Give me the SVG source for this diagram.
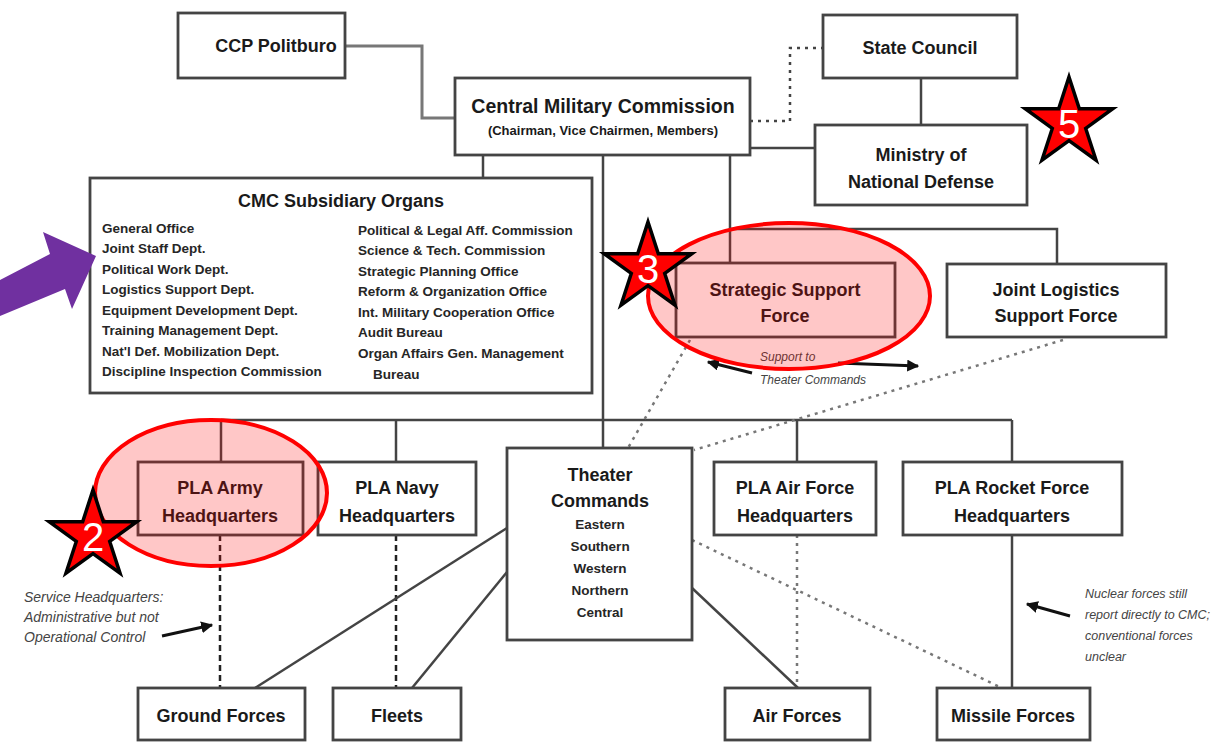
<svg xmlns="http://www.w3.org/2000/svg" width="1227" height="742" viewBox="0 0 1227 742">
<defs>
<style>
.box{fill:#fff;stroke:#444;stroke-width:2.8}
.t{font-family:"Liberation Sans",Arial,sans-serif;font-weight:bold;fill:#1a1a1a;text-anchor:middle}
.b19{font-size:19px}
.b18{font-size:18px}
.s{font-family:"Liberation Sans",Arial,sans-serif;font-weight:bold;font-size:13.5px;fill:#262626}
.sm{font-family:"Liberation Sans",Arial,sans-serif;font-weight:bold;font-size:13.5px;fill:#262626;text-anchor:middle}
.it{font-family:"Liberation Sans",Arial,sans-serif;font-style:italic;fill:#444}
.solid{fill:none;stroke:#444;stroke-width:2.5}
.dash{fill:none;stroke:#222;stroke-width:2.5;stroke-dasharray:6,4}
.dot{fill:none;stroke:#777;stroke-width:2.5;stroke-dasharray:3,5}
.hl{fill:#ff0000;fill-opacity:0.22;stroke:#ff0000;stroke-width:4}
.star{fill:#ff0000;stroke:#000;stroke-width:3.5;stroke-linejoin:miter}
.num{font-family:"Liberation Sans",Arial,sans-serif;font-size:40px;fill:#fff;text-anchor:middle}
</style>
<polygon id="starShape" points="0,-46 10.33,-14.21 43.75,-14.21 16.71,5.43 27.04,37.21 0,17.57 -27.04,37.21 -16.71,5.43 -43.75,-14.21 -10.33,-14.21"/>
<marker id="ah" viewBox="0 0 10 10" refX="9" refY="5" markerWidth="4" markerHeight="4" orient="auto-start-reverse">
<path d="M0,0 L10,5 L0,10 z" fill="#111"/>
</marker>
</defs>

<g id="connectors">
<path class="solid" d="M345,46 H422 V118 H455" style="stroke:#777;stroke-width:3"/>
<path class="dot" d="M750,121 H790 V48 H823" style="stroke:#444"/>
<path class="solid" d="M750,148 H815"/>
<path class="solid" d="M921,78 V125"/>
<path class="solid" d="M483,155 V178"/>
<path class="solid" d="M603,155 V448"/>
<path class="solid" d="M730,155 V263"/>
<path class="solid" d="M730,229 H1057 V264"/>
<path class="solid" d="M221,420 H1012"/>
<path class="solid" d="M221,420 V462"/>
<path class="solid" d="M396,420 V462"/>
<path class="solid" d="M797,420 V462"/>
<path class="solid" d="M1012,420 V462"/>
<path class="dot" d="M690,340 L628,448"/>
<path class="dot" d="M1063,340 L694,450"/>
<path class="dash" d="M220,535 V688"/>
<path class="dash" d="M396,535 V688"/>
<path class="dot" d="M797,535 V688"/>
<path class="solid" d="M1012,535 V688"/>
<path class="solid" d="M507,528 L255,688"/>
<path class="solid" d="M507,572 L412,688"/>
<path class="solid" d="M692,588 L798,688"/>
<path class="dot" d="M692,540 L1002,688"/>
<path d="M752,373 L708,362" stroke="#111" stroke-width="3" marker-end="url(#ah)"/>
<path d="M838,363 L918,366" stroke="#111" stroke-width="3" marker-end="url(#ah)"/>
<path d="M162,636 L212,625" stroke="#111" stroke-width="3" marker-end="url(#ah)"/>
<path d="M1070,616 L1027,604" stroke="#111" stroke-width="3" marker-end="url(#ah)"/>
</g>

<g id="ccp-politburo">
<rect class="box" x="178" y="13" width="167" height="65"/>
<text class="t b18" x="276" y="52">CCP Politburo</text>
</g>

<g id="cmc">
<rect class="box" x="455" y="78" width="295" height="77"/>
<text class="t" x="603" y="113" style="font-size:19.5px">Central Military Commission</text>
<text class="t" x="603" y="135" style="font-size:13px">(Chairman, Vice Chairmen, Members)</text>
</g>

<g id="state-council">
<rect class="box" x="823" y="15" width="194" height="63"/>
<text class="t b18" x="920" y="54">State Council</text>
</g>

<g id="mnd">
<rect class="box" x="815" y="125" width="212" height="80"/>
<text class="t b18" x="921" y="161">Ministry of</text>
<text class="t b18" x="921" y="188">National Defense</text>
</g>

<g id="cmc-subsidiary">
<rect class="box" x="90" y="178" width="502" height="215"/>
<text class="t b18" x="341" y="207">CMC Subsidiary Organs</text>
<text class="s" x="102" y="233">General Office</text>
<text class="s" x="102" y="253">Joint Staff Dept.</text>
<text class="s" x="102" y="274">Political Work Dept.</text>
<text class="s" x="102" y="294">Logistics Support Dept.</text>
<text class="s" x="102" y="315">Equipment Development Dept.</text>
<text class="s" x="102" y="335">Training Management Dept.</text>
<text class="s" x="102" y="356">Nat'l Def. Mobilization Dept.</text>
<text class="s" x="102" y="376">Discipline Inspection Commission</text>
<text class="s" x="358" y="235">Political &amp; Legal Aff. Commission</text>
<text class="s" x="358" y="255">Science &amp; Tech. Commission</text>
<text class="s" x="358" y="276">Strategic Planning Office</text>
<text class="s" x="358" y="296">Reform &amp; Organization Office</text>
<text class="s" x="358" y="317">Int. Military Cooperation Office</text>
<text class="s" x="358" y="337">Audit Bureau</text>
<text class="s" x="358" y="358">Organ Affairs Gen. Management</text>
<text class="s" x="373" y="379">Bureau</text>
</g>

<g id="ssf">
<rect class="box" x="676" y="263" width="219" height="74"/>
<text class="t b18" x="785" y="296">Strategic Support</text>
<text class="t b18" x="785" y="322">Force</text>
</g>

<g id="jlsf">
<rect class="box" x="947" y="264" width="219" height="73"/>
<text class="t b18" x="1056" y="296">Joint Logistics</text>
<text class="t b18" x="1056" y="322">Support Force</text>
</g>

<g id="support-label">
<text class="it" x="760" y="361" style="font-size:12px">Support to</text>
<text class="it" x="760" y="384" style="font-size:12px">Theater Commands</text>
</g>

<g id="army-hq">
<rect class="box" x="138" y="462" width="165" height="73"/>
<text class="t b18" x="220" y="494">PLA Army</text>
<text class="t b18" x="220" y="522">Headquarters</text>
</g>

<g id="navy-hq">
<rect class="box" x="318" y="462" width="158" height="73"/>
<text class="t b18" x="397" y="494">PLA Navy</text>
<text class="t b18" x="397" y="522">Headquarters</text>
</g>

<g id="theater-commands">
<rect class="box" x="507" y="448" width="185" height="192"/>
<text class="t b18" x="600" y="481">Theater</text>
<text class="t b18" x="600" y="507">Commands</text>
<text class="sm" x="600" y="529">Eastern</text>
<text class="sm" x="600" y="551">Southern</text>
<text class="sm" x="600" y="573">Western</text>
<text class="sm" x="600" y="595">Northern</text>
<text class="sm" x="600" y="617">Central</text>
</g>

<g id="airforce-hq">
<rect class="box" x="714" y="462" width="162" height="73"/>
<text class="t b18" x="795" y="494">PLA Air Force</text>
<text class="t b18" x="795" y="522">Headquarters</text>
</g>

<g id="rocket-hq">
<rect class="box" x="903" y="462" width="219" height="73"/>
<text class="t b18" x="1012" y="494">PLA Rocket Force</text>
<text class="t b18" x="1012" y="522">Headquarters</text>
</g>

<g id="ground-forces">
<rect class="box" x="138" y="688" width="167" height="52"/>
<text class="t b18" x="221" y="722">Ground Forces</text>
</g>
<g id="fleets">
<rect class="box" x="333" y="688" width="128" height="52"/>
<text class="t b18" x="397" y="722">Fleets</text>
</g>
<g id="air-forces">
<rect class="box" x="725" y="688" width="145" height="52"/>
<text class="t b18" x="797" y="722">Air Forces</text>
</g>
<g id="missile-forces">
<rect class="box" x="937" y="688" width="153" height="52"/>
<text class="t b18" x="1013" y="722">Missile Forces</text>
</g>

<g id="service-note">
<text class="it" x="24" y="602" style="font-size:14px">Service Headquarters:</text>
<text class="it" x="24" y="622" style="font-size:14px">Administrative but not</text>
<text class="it" x="24" y="642" style="font-size:14px">Operational Control</text>
</g>

<g id="nuclear-note">
<text class="it" x="1085" y="598" style="font-size:12.5px">Nuclear forces still</text>
<text class="it" x="1085" y="619" style="font-size:12.5px">report directly to CMC;</text>
<text class="it" x="1085" y="640" style="font-size:12.5px">conventional forces</text>
<text class="it" x="1085" y="661" style="font-size:12.5px">unclear</text>
</g>

<g id="highlight-ssf">
<ellipse class="hl" cx="789" cy="296" rx="141" ry="73"/>
</g>
<g id="highlight-army">
<ellipse class="hl" cx="211" cy="493" rx="116" ry="73"/>
</g>

<g id="star-3">
<use href="#starShape" class="star" transform="translate(648,268)"/>
<text class="num" x="648" y="283">3</text>
</g>
<g id="star-2">
<use href="#starShape" class="star" transform="translate(93,536)"/>
<text class="num" x="93" y="551">2</text>
</g>
<g id="star-5">
<use href="#starShape" class="star" transform="translate(1069,123)"/>
<text class="num" x="1069" y="138">5</text>
</g>

<g id="purple-arrow">
<polygon points="0,280 50,254 43,232 96,256 72,309 65,289 0,316" fill="#7030a0"/>
</g>
</svg>
